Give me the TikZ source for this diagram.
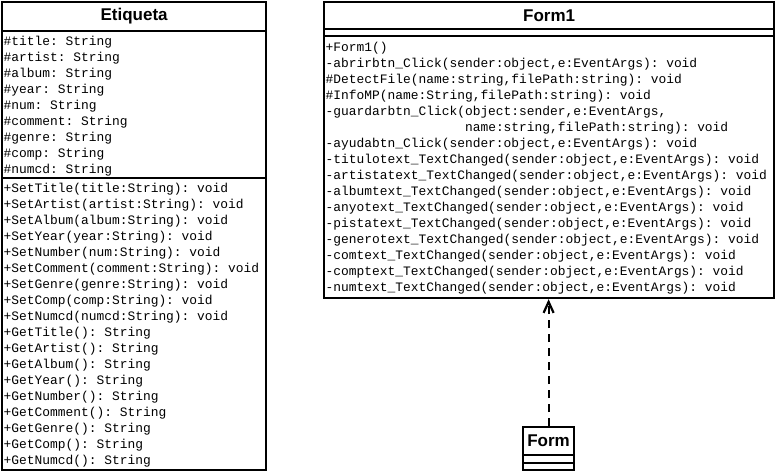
\documentclass[tikz,border=0pt]{standalone}
\usepackage{fontspec}
\setmainfont{Liberation Sans}
\setmonofont{Liberation Mono}
\usetikzlibrary{arrows.meta}

\begin{document}
\begin{tikzpicture}[x=1pt, y=-1pt,
  classname/.style={rectangle, draw, line width=2.2pt, anchor=north west, inner sep=0pt, font=\fontsize{17}{19}\selectfont\bfseries},
  compartment/.style={rectangle, draw, line width=2.2pt, anchor=north west, inner sep=0pt},
  members/.style={anchor=north west, inner sep=0pt, align=left, font=\ttfamily\fontsize{12.9}{16}\selectfont},
  realize/.style={-{Straight Barb[length=11pt,width=10pt]}, line width=2.2pt, dash pattern=on 8pt off 6pt}
]
  \useasboundingbox (0,0) rectangle (775,473);

  \node[classname, minimum width=264pt, minimum height=29pt] (etqname) at (1,1) {Etiqueta};
  \node[compartment, minimum width=264pt, minimum height=147pt] (etqattr) at (1,30) {};
  \node[compartment, minimum width=264pt, minimum height=292pt] (etqops) at (1,177) {};

  \node[classname, minimum width=450pt, minimum height=27pt] (frm1name) at (323,1) {Form1};
  \node[compartment, minimum width=450pt, minimum height=7pt] (frm1attr) at (323,28) {};
  \node[compartment, minimum width=450pt, minimum height=262pt] (frm1ops) at (323,35) {};

  \node[classname, minimum width=51pt, minimum height=28pt] (frmname) at (522,426) {Form};
  \node[compartment, minimum width=51pt, minimum height=8pt] (frmattr) at (522,454) {};
  \node[compartment, minimum width=51pt, minimum height=7pt] (frmops) at (522,462) {};

  \node[members] (etqattrtxt) at (3.5,36) {\#title: String\\ \#artist: String\\ \#album: String\\ \#year: String\\ \#num: String\\ \#comment: String\\ \#genre: String\\ \#comp: String\\ \#numcd: String};
  \node[members] (etqopstxt) at (3.5,183) {+SetTitle(title:String): void\\ +SetArtist(artist:String): void\\ +SetAlbum(album:String): void\\ +SetYear(year:String): void\\ +SetNumber(num:String): void\\ +SetComment(comment:String): void\\ +SetGenre(genre:String): void\\ +SetComp(comp:String): void\\ +SetNumcd(numcd:String): void\\ +GetTitle(): String\\ +GetArtist(): String\\ +GetAlbum(): String\\ +GetYear(): String\\ +GetNumber(): String\\ +GetComment(): String\\ +GetGenre(): String\\ +GetComp(): String\\ +GetNumcd(): String};
  \node[members] (frm1opstxt) at (325.5,42) {+Form1()\\ -abrirbtn\_Click(sender:object,e:EventArgs): void\\ \#DetectFile(name:string,filePath:string): void\\ \#InfoMP(name:String,filePath:string): void\\ -guardarbtn\_Click(object:sender,e:EventArgs,\\ \phantom{-guardarbtn\_Click(}name:string,filePath:string): void\\ -ayudabtn\_Click(sender:object,e:EventArgs): void\\ -titulotext\_TextChanged(sender:object,e:EventArgs): void\\ -artistatext\_TextChanged(sender:object,e:EventArgs): void\\ -albumtext\_TextChanged(sender:object,e:EventArgs): void\\ -anyotext\_TextChanged(sender:object,e:EventArgs): void\\ -pistatext\_TextChanged(sender:object,e:EventArgs): void\\ -generotext\_TextChanged(sender:object,e:EventArgs): void\\ -comtext\_TextChanged(sender:object,e:EventArgs): void\\ -comptext\_TextChanged(sender:object,e:EventArgs): void\\ -numtext\_TextChanged(sender:object,e:EventArgs): void};

  \draw[realize] (frmname.north) -- (frmname.north |- frm1ops.south);
\end{tikzpicture}
\end{document}
